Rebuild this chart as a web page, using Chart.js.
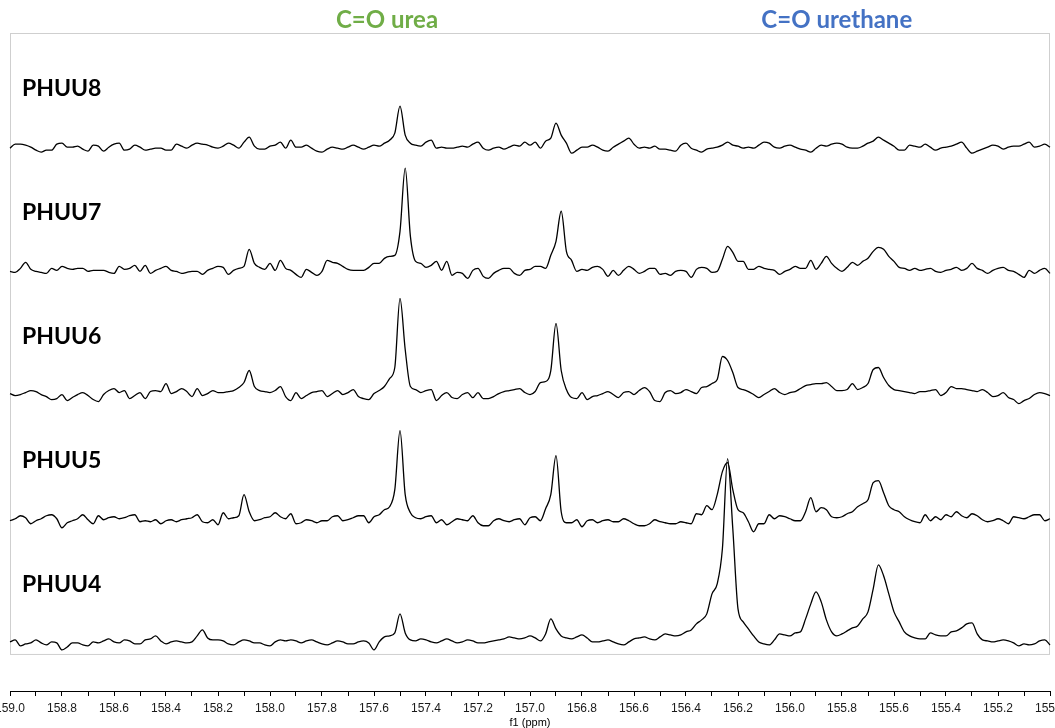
<!DOCTYPE html>
<html>
<head>
<meta charset="utf-8">
<title>PHUU carbonyl region</title>
<script src="https://cdn.jsdelivr.net/npm/chart.js@4.4.1/dist/chart.umd.min.js"></script>
<style>
  html, body { margin: 0; padding: 0; background: #fff; overflow: hidden; }
  #wrap { position: absolute; left: -60px; top: 0; width: 1175px; height: 728px; }
</style>
</head>
<body>
<div id="wrap"><canvas id="nmrChart" width="1175" height="728"></canvas></div>
<script>
// chemical shift of every sampled point (ppm)
const ppm = [
  159.00, 158.98, 158.96, 158.94, 158.92, 158.90, 158.88, 158.86, 158.84, 158.82,
  158.80, 158.78, 158.76, 158.74, 158.72, 158.70, 158.68, 158.66, 158.64, 158.62,
  158.60, 158.58, 158.56, 158.54, 158.52, 158.50, 158.48, 158.46, 158.44, 158.42,
  158.40, 158.38, 158.36, 158.34, 158.32, 158.30, 158.28, 158.26, 158.24, 158.22,
  158.20, 158.18, 158.16, 158.14, 158.12, 158.10, 158.08, 158.06, 158.04, 158.02,
  158.00, 157.98, 157.96, 157.94, 157.92, 157.90, 157.88, 157.86, 157.84, 157.82,
  157.80, 157.78, 157.76, 157.74, 157.72, 157.70, 157.68, 157.66, 157.64, 157.62,
  157.60, 157.58, 157.56, 157.54, 157.52, 157.50, 157.48, 157.46, 157.44, 157.42,
  157.40, 157.38, 157.36, 157.34, 157.32, 157.30, 157.28, 157.26, 157.24, 157.22,
  157.20, 157.18, 157.16, 157.14, 157.12, 157.10, 157.08, 157.06, 157.04, 157.02,
  157.00, 156.98, 156.96, 156.94, 156.92, 156.90, 156.88, 156.86, 156.84, 156.82,
  156.80, 156.78, 156.76, 156.74, 156.72, 156.70, 156.68, 156.66, 156.64, 156.62,
  156.60, 156.58, 156.56, 156.54, 156.52, 156.50, 156.48, 156.46, 156.44, 156.42,
  156.40, 156.38, 156.36, 156.34, 156.32, 156.30, 156.28, 156.26, 156.24, 156.22,
  156.20, 156.18, 156.16, 156.14, 156.12, 156.10, 156.08, 156.06, 156.04, 156.02,
  156.00, 155.98, 155.96, 155.94, 155.92, 155.90, 155.88, 155.86, 155.84, 155.82,
  155.80, 155.78, 155.76, 155.74, 155.72, 155.70, 155.68, 155.66, 155.64, 155.62,
  155.60, 155.58, 155.56, 155.54, 155.52, 155.50, 155.48, 155.46, 155.44, 155.42,
  155.40, 155.38, 155.36, 155.34, 155.32, 155.30, 155.28, 155.26, 155.24, 155.22,
  155.20, 155.18, 155.16, 155.14, 155.12, 155.10, 155.08, 155.06, 155.04, 155.02,
  155.00
];

// intensities (baseline = 0), same order as ppm
const phuu8 = [
  -1, 3, 3, 2, 0, -3, -5, -3, -3, 3,
  4, 0, 0, 1, -2, -4, 2, 1, -4, 0,
  3, 4, -3, -2, 2, 0, -3, -2, -1, -1,
  -3, -3, 3, 1, -1, 2, 4, 3, 2, 0,
  -1, 1, 4, 2, -1, 5, 10, 1, -2, -2,
  1, 2, 5, -1, 7, 0, 0, 2, -1, -4,
  -5, -2, 0, -1, -2, 0, 2, 0, -2, 0,
  2, 1, 4, 7, 14, 41, 12, 4, 2, 1,
  5, 7, -1, 0, -1, -1, 0, 1, 0, 3,
  5, -1, -3, -1, 0, -2, 0, 2, 1, 5,
  2, 5, -1, 6, 9, 24, 12, 4, -6, -3,
  0, 0, 2, 0, -3, -4, 0, 3, 6, 9,
  3, -1, 0, -1, 1, -2, -2, -3, -4, 2,
  4, -1, -3, -5, -2, -1, 0, 2, 5, 2,
  1, -1, 0, -1, 2, 5, 4, 0, -1, 1,
  2, 0, -2, -3, -5, -1, 2, 1, 3, 4,
  3, 0, -1, -1, 1, 4, 6, 10, 7, 4,
  1, -3, -3, 2, 1, 0, 3, 0, -3, -1,
  0, 1, 3, 5, -1, -6, -4, -2, 0, 2,
  1, -2, 0, 1, 1, 3, 5, 0, 1, 3,
  0
];
const phuu7 = [
  0, -1, 3, 9, 2, 0, -1, -2, 3, 1,
  5, 3, 2, 3, 3, 0, 1, 1, 1, -1,
  -2, 5, 2, 3, 6, 0, 6, -2, 1, 3,
  5, 1, 0, -2, -1, 0, 0, -3, 1, 3,
  5, 4, -3, 1, 3, 5, 22, 8, 4, 2,
  8, 1, 11, 3, 1, -3, -6, 2, -1, -4,
  0, 11, 9, 8, 5, 2, 1, 1, 1, 4,
  8, 8, 13, 15, 16, 40, 103, 35, 10, 8,
  4, 6, 10, 1, 10, -4, -1, -2, -7, 1,
  3, -5, -7, -2, 1, 3, 3, -2, -4, 1,
  2, 5, 5, 3, 16, 30, 60, 20, 11, 0,
  2, 1, 4, 5, 2, -5, 1, -4, 1, 5,
  2, -2, 0, 3, 3, -3, -2, -4, 0, 1,
  0, -6, 2, 4, 3, -1, 0, 12, 25, 19,
  10, 10, 2, 2, 5, 3, 2, 1, -3, 0,
  2, 5, 3, 3, 11, 2, 8, 15, 8, 3,
  0, 4, 9, 6, 10, 13, 20, 24, 22, 15,
  10, 4, 3, 1, 3, 1, 2, 3, 0, -1,
  1, 2, 4, 1, 3, 8, 3, 1, -2, 1,
  3, 4, 1, 0, -3, -6, 1, -2, 1, 3,
  -2
];
const phuu6 = [
  2, 0, 1, 3, 5, 4, 1, -1, -4, -3,
  1, -5, -2, 1, 3, 0, -4, -6, 1, 5,
  7, 3, 5, -3, 0, 3, -3, 4, 5, 4,
  12, 2, 4, 7, 4, -1, 7, 0, 2, 5,
  3, 3, 4, 5, 8, 13, 25, 9, 5, 4,
  3, 5, 9, -1, -5, 3, -3, 0, 3, 4,
  5, -1, 2, 5, 1, 3, 6, -1, -3, -4,
  2, 5, 9, 17, 28, 97, 46, 9, 6, 3,
  5, 6, -5, 0, 3, -2, -3, 1, 3, -2,
  3, -3, -3, -1, 2, 4, 5, 6, 7, 3,
  1, 4, 13, 14, 25, 72, 25, 6, -2, -3,
  3, -4, -1, 0, 2, 4, 1, -2, 3, 4,
  1, 5, 8, 4, -5, -6, 3, 5, 2, 3,
  6, 4, 2, 8, 9, 12, 16, 39, 35, 23,
  8, 6, 4, 1, -2, 1, 4, 7, 3, 1,
  3, 4, 7, 10, 11, 12, 12, 13, 9, 5,
  5, 6, 12, 6, 8, 12, 26, 28, 18, 10,
  6, 5, 4, 3, 2, 4, 4, 5, 6, 0,
  3, 9, 7, 7, 6, 5, 4, 6, 3, -1,
  0, 3, -2, -4, -8, -5, -3, 1, 3, 2,
  0
];
const phuu5 = [
  -1, 1, 4, 2, -4, -1, 1, 4, 5, 1,
  -8, -3, -1, 1, 5, 0, -4, 4, 0, 2,
  3, 1, 2, 4, 5, -2, -1, -2, 0, -4,
  -1, 0, -2, 0, 1, 2, 5, -2, -3, 0,
  -5, 7, 1, 2, 4, 25, 8, -1, 0, 2,
  3, 7, 3, 1, 6, -4, -3, 0, -1, -3,
  -1, -1, 3, 4, -1, 0, 2, 4, 4, -3,
  3, 5, 10, 13, 30, 89, 25, 7, 2, 1,
  3, 4, -3, 0, -5, -2, 1, 0, -1, 4,
  -3, -6, -6, -1, 1, -1, -2, 0, 1, -5,
  2, 3, -1, 11, 25, 64, 8, -3, -3, 0,
  -7, -1, 0, -3, -1, 0, -2, -2, 1, -1,
  -4, -6, -6, -4, 0, -2, -3, -4, -4, -2,
  -3, -4, 6, 5, 14, 10, 25, 48, 57, 30,
  10, 7, -2, -12, -4, -4, 5, 1, 4, 3,
  1, -1, -1, 8, 22, 8, 12, 10, 3, 2,
  3, 6, 8, 13, 16, 20, 37, 39, 27, 14,
  10, 8, 3, 0, -2, -3, 5, -1, 3, 0,
  5, 3, 8, 4, 2, 6, 4, 0, -2, -1,
  1, -1, -4, 3, 2, 1, 3, 5, 5, -1,
  1
];
const phuu4 = [
  2, 4, -2, 0, 1, 4, 1, -1, 2, 1,
  -6, -3, 1, 1, -1, -2, 2, 1, 3, 5,
  2, 1, 4, 3, 0, 0, 4, 5, 8, 3,
  0, 2, 3, 2, 1, 2, 8, 14, 6, 4,
  4, 3, 0, -1, 2, 4, 3, 1, 1, -1,
  -2, 2, 4, 3, 4, 3, 1, 3, 4, 2,
  0, -1, 1, 3, 2, 0, 0, 2, 3, 1,
  -6, 2, 7, 8, 11, 30, 11, 4, 3, 5,
  4, 2, 1, 3, 5, 3, 1, 2, 4, 3,
  1, 1, 2, 3, 4, 5, 7, 6, 5, 6,
  8, 6, 3, 10, 25, 15, 8, 6, 5, 7,
  9, 6, 2, 2, 3, 4, 2, 0, -1, 2,
  5, 6, 7, 5, 4, 7, 10, 9, 8, 9,
  12, 14, 20, 24, 30, 50, 60, 95, 185, 115,
  35, 22, 15, 8, 2, 0, -1, 4, 10, 9,
  8, 11, 12, 25, 40, 52, 42, 24, 12, 8,
  10, 13, 16, 18, 25, 32, 55, 79, 68, 50,
  32, 22, 12, 8, 6, 5, 5, 11, 9, 8,
  8, 12, 13, 16, 20, 21, 10, 4, 3, 2,
  3, 4, 3, 1, -2, 0, -1, 0, 3, 4,
  -1
];

const samples = ['PHUU8', 'PHUU7', 'PHUU6', 'PHUU5', 'PHUU4'];
const spectra = [phuu8, phuu7, phuu6, phuu5, phuu4];

// carbonyl bands named above the plot
const bandNames = ['C=O urea', 'C=O urethane'];
const bandCentres = [157.55, 155.82];
const bandColours = ['#70AD47', '#4472C4'];

// intensity range given to each stacked trace, and height of the sample name
const traceMin = -10;
const traceMax = 114;
const labelLevel = 59;

Chart.defaults.font.family = "'Liberation Sans', Arial, sans-serif";

const scales = {
  x: {
    type: 'linear',
    position: 'bottom',
    reverse: true,
    min: 155,
    max: 159,
    ticks: {
      stepSize: 0.1,
      maxTicksLimit: 100,
      autoSkip: false,
      includeBounds: false,
      maxRotation: 0,
      minRotation: 0,
      padding: 7,
      color: '#1a1a1a',
      font: { size: 12, lineHeight: 1 },
      callback: (v) => (Math.round(v * 10) % 2 === 0 ? Number(v).toFixed(1) : '')
    },
    grid: { drawOnChartArea: false, drawTicks: true, tickLength: 5, tickColor: '#000', tickWidth: 1 },
    border: { display: true, color: '#000', width: 1 },
    title: {
      display: true, text: 'f1 (ppm)', color: '#000',
      font: { size: 11, lineHeight: 1 }, padding: { top: -5, bottom: 0 }
    }
  },
  gap: { display: false, position: 'left', stack: 'spectra', stackWeight: 37, min: 0, max: 1 }
};
// later scales are laid out nearer the top of the stack
samples.slice().reverse().forEach((name) => {
  scales[name] = {
    display: false, position: 'left', stack: 'spectra', stackWeight: 124,
    min: traceMin, max: traceMax
  };
});

const datasets = samples.map((name, k) => ({
  label: name,
  data: ppm.map((x, i) => ({ x: x, y: spectra[k][i] })),
  yAxisID: name,
  borderColor: '#000',
  borderWidth: 1.3,
  pointRadius: 0,
  cubicInterpolationMode: 'monotone',
  clip: false,
  fill: false
}));

const decor = {
  id: 'decor',
  beforeDatasetsDraw(chart) {
    const { ctx, chartArea } = chart;
    const top = chart.scales[samples[0]].top;
    const bottom = chart.scales[samples[samples.length - 1]].bottom;
    ctx.save();
    ctx.strokeStyle = '#cfcfcf';
    ctx.lineWidth = 1;
    ctx.strokeRect(chartArea.left + 0.5, top + 0.5, chartArea.width - 1, bottom - top);
    ctx.restore();
  },
  afterDatasetsDraw(chart) {
    const { ctx, chartArea } = chart;
    ctx.save();
    ctx.fillStyle = '#000';
    ctx.font = 'bold 23px Lato';
    ctx.textBaseline = 'middle';
    ctx.textAlign = 'left';
    samples.forEach((name) => {
      ctx.fillText(name, chartArea.left + 12, chart.scales[name].getPixelForValue(labelLevel));
    });
    ctx.font = 'bold 24px Lato';
    ctx.textAlign = 'center';
    bandNames.forEach((text, k) => {
      ctx.fillStyle = bandColours[k];
      ctx.fillText(text, chart.scales.x.getPixelForValue(bandCentres[k]), chartArea.top - 13);
    });
    ctx.restore();
  }
};

const nmrChart = new Chart(document.getElementById('nmrChart'), {
  type: 'line',
  data: { datasets: datasets },
  options: {
    responsive: false,
    devicePixelRatio: 1,
    animation: false,
    events: [],
    layout: { padding: { left: 70, right: 65, top: 33, bottom: 0 } },
    plugins: { legend: { display: false }, tooltip: { enabled: false }, title: { display: false } },
    scales: scales
  },
  plugins: [decor]
});
</script>
</body>
</html>
